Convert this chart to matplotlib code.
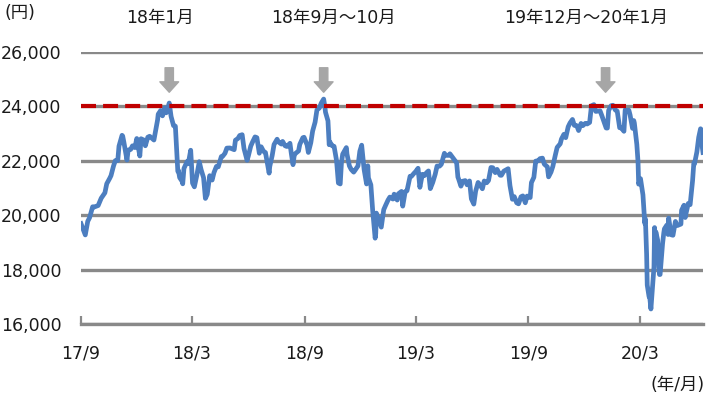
import numpy as np
import pandas as pd
import matplotlib
matplotlib.use("Agg")
import matplotlib.pyplot as plt
from matplotlib.ticker import FuncFormatter

plt.rcParams['font.family'] = ['DejaVu Sans', 'Noto Sans CJK JP']

# Nikkei-like closing prices (yen)
dates = [
    '2017-09-01', '2017-09-08', '2017-09-12', '2017-09-15', '2017-09-20', '2017-09-22', '2017-09-29',
    '2017-10-04', '2017-10-10', '2017-10-13', '2017-10-18', '2017-10-20', '2017-10-24', '2017-10-27',
    '2017-10-31', '2017-11-02', '2017-11-07', '2017-11-08', '2017-11-10', '2017-11-15', '2017-11-17',
    '2017-11-21', '2017-11-24', '2017-11-28', '2017-12-01', '2017-12-06', '2017-12-08', '2017-12-13',
    '2017-12-15', '2017-12-19', '2017-12-22', '2017-12-29',
    '2018-01-04', '2018-01-05', '2018-01-09', '2018-01-12', '2018-01-16', '2018-01-18', '2018-01-19',
    '2018-01-23', '2018-01-26', '2018-01-30', '2018-02-02', '2018-02-06', '2018-02-07', '2018-02-09',
    '2018-02-13', '2018-02-14', '2018-02-16', '2018-02-21', '2018-02-23', '2018-02-27', '2018-03-02',
    '2018-03-05', '2018-03-09', '2018-03-13', '2018-03-16', '2018-03-20', '2018-03-23', '2018-03-26',
    '2018-03-30', '2018-04-03', '2018-04-06', '2018-04-10', '2018-04-13', '2018-04-18', '2018-04-20',
    '2018-04-24', '2018-04-27', '2018-05-02', '2018-05-09', '2018-05-11', '2018-05-15', '2018-05-18',
    '2018-05-22', '2018-05-25', '2018-05-30', '2018-06-01', '2018-06-05', '2018-06-08', '2018-06-12',
    '2018-06-15', '2018-06-19', '2018-06-22', '2018-06-26', '2018-06-29', '2018-07-03', '2018-07-05',
    '2018-07-06', '2018-07-10', '2018-07-13', '2018-07-18', '2018-07-20', '2018-07-25', '2018-07-27',
    '2018-07-31', '2018-08-03', '2018-08-08', '2018-08-10', '2018-08-13', '2018-08-15', '2018-08-17',
    '2018-08-22', '2018-08-24', '2018-08-29', '2018-08-31', '2018-09-05', '2018-09-07', '2018-09-11',
    '2018-09-14', '2018-09-18', '2018-09-21', '2018-09-25', '2018-09-28', '2018-10-02', '2018-10-04',
    '2018-10-05', '2018-10-09', '2018-10-11', '2018-10-12', '2018-10-16', '2018-10-19', '2018-10-23',
    '2018-10-26', '2018-10-29', '2018-10-31', '2018-11-02', '2018-11-08', '2018-11-09', '2018-11-13',
    '2018-11-16', '2018-11-20', '2018-11-22', '2018-11-27', '2018-11-30', '2018-12-03', '2018-12-07',
    '2018-12-11', '2018-12-13', '2018-12-14', '2018-12-18', '2018-12-21', '2018-12-25', '2018-12-26',
    '2018-12-27', '2018-12-28',
    '2019-01-04', '2019-01-08', '2019-01-11', '2019-01-15', '2019-01-18', '2019-01-23', '2019-01-25',
    '2019-01-30', '2019-02-01', '2019-02-06', '2019-02-08', '2019-02-12', '2019-02-15', '2019-02-20',
    '2019-02-22', '2019-02-27', '2019-03-01', '2019-03-05', '2019-03-08', '2019-03-12', '2019-03-15',
    '2019-03-19', '2019-03-22', '2019-03-25', '2019-03-29', '2019-04-02', '2019-04-05', '2019-04-09',
    '2019-04-12', '2019-04-17', '2019-04-19', '2019-04-24', '2019-04-26', '2019-05-07', '2019-05-09',
    '2019-05-10', '2019-05-14', '2019-05-17', '2019-05-21', '2019-05-24', '2019-05-28', '2019-05-31',
    '2019-06-04', '2019-06-07', '2019-06-11', '2019-06-14', '2019-06-18', '2019-06-21', '2019-06-25',
    '2019-06-28', '2019-07-02', '2019-07-05', '2019-07-09', '2019-07-12', '2019-07-17', '2019-07-19',
    '2019-07-23', '2019-07-26', '2019-07-30', '2019-08-02', '2019-08-06', '2019-08-09', '2019-08-13',
    '2019-08-16', '2019-08-20', '2019-08-23', '2019-08-27', '2019-08-30', '2019-09-04', '2019-09-06',
    '2019-09-10', '2019-09-13', '2019-09-17', '2019-09-20', '2019-09-24', '2019-09-27', '2019-10-02',
    '2019-10-04', '2019-10-08', '2019-10-11', '2019-10-15', '2019-10-18', '2019-10-23', '2019-10-25',
    '2019-10-29', '2019-11-01', '2019-11-05', '2019-11-08', '2019-11-12', '2019-11-15', '2019-11-19',
    '2019-11-22', '2019-11-26', '2019-11-29', '2019-12-03', '2019-12-06', '2019-12-10', '2019-12-13',
    '2019-12-17', '2019-12-20', '2019-12-24', '2019-12-27', '2019-12-30',
    '2020-01-06', '2020-01-08', '2020-01-10', '2020-01-14', '2020-01-17', '2020-01-21', '2020-01-24',
    '2020-01-28', '2020-01-31', '2020-02-04', '2020-02-06', '2020-02-07', '2020-02-12', '2020-02-14',
    '2020-02-18', '2020-02-20', '2020-02-21', '2020-02-25', '2020-02-27', '2020-02-28', '2020-03-02',
    '2020-03-06', '2020-03-09', '2020-03-10', '2020-03-12', '2020-03-13', '2020-03-16', '2020-03-17',
    '2020-03-19', '2020-03-24', '2020-03-25', '2020-03-26', '2020-03-27', '2020-03-30', '2020-04-01',
    '2020-04-02', '2020-04-03', '2020-04-07', '2020-04-09', '2020-04-10', '2020-04-14', '2020-04-16',
    '2020-04-17', '2020-04-21', '2020-04-24', '2020-04-28', '2020-05-01', '2020-05-07', '2020-05-08',
    '2020-05-12', '2020-05-14', '2020-05-15', '2020-05-19', '2020-05-22', '2020-05-26', '2020-05-28',
    '2020-05-29', '2020-06-02', '2020-06-04', '2020-06-05', '2020-06-08', '2020-06-10', '2020-06-11',
    '2020-06-12',
]
closes = [
    19691, 19275, 19776, 19909, 20310, 20296, 20356,
    20626, 20823, 21155, 21363, 21457, 21805, 22008,
    22011, 22539, 22937, 22913, 22681, 22028, 22397,
    22417, 22551, 22486, 22819, 22177, 22811, 22758,
    22553, 22868, 22902, 22764,
    23506, 23714, 23849, 23653, 23951, 23763, 23808,
    24124, 23631, 23291, 23274, 21610, 21645, 21382,
    21245, 21154, 21720, 21970, 21892, 22389, 21181,
    21042, 21469, 21968, 21676, 21380, 20617, 20766,
    21454, 21292, 21567, 21794, 21778, 22158, 22162,
    22278, 22467, 22472, 22408, 22758, 22818, 22930,
    22960, 22450, 22018, 22171, 22539, 22694, 22878,
    22851, 22278, 22516, 22342, 22305, 21785, 21546,
    21788, 22196, 22597, 22794, 22698, 22614, 22712,
    22553, 22525, 22644, 22298, 21857, 22204, 22270,
    22362, 22601, 22848, 22865, 22580, 22307, 22664,
    23094, 23420, 23869, 23940, 24120, 24270, 23975,
    23784, 23469, 22590, 22694, 22549, 22532, 22010,
    21184, 21149, 21920, 22243, 22486, 22250, 21810,
    21680, 21583, 21646, 21812, 22351, 22574, 21679,
    21148, 21816, 21374, 21115, 20166, 19155, 19327,
    20077, 20015,
    19561, 20204, 20359, 20555, 20666, 20593, 20774,
    20556, 20788, 20874, 20333, 20864, 20900, 21431,
    21425, 21556, 21602, 21726, 21025, 21503, 21450,
    21566, 21627, 20977, 21205, 21505, 21807, 21802,
    21870, 22277, 22200, 22200, 22258, 21923, 21402,
    21344, 21067, 21250, 21272, 21117, 21260, 20601,
    20408, 20884, 21204, 21116, 20972, 21258, 21193,
    21275, 21754, 21746, 21565, 21685, 21469, 21466,
    21620, 21658, 21709, 21087, 20585, 20684, 20455,
    20418, 20677, 20710, 20456, 20704, 20649, 21199,
    21392, 21988, 22001, 22079, 22098, 21878, 21778,
    21410, 21587, 21798, 22207, 22492, 22625, 22799,
    22974, 22850, 23251, 23391, 23520, 23303, 23292,
    23112, 23373, 23293, 23379, 23354, 23410, 24023,
    24066, 23816, 23830, 23837, 23656,
    23204, 23204, 23850, 24025, 24041, 23864, 23827,
    23215, 23205, 23084, 23873, 23827, 23861, 23687,
    23194, 23479, 23386, 22605, 21948, 21142, 21344,
    20749, 19698, 19867, 18559, 17431, 17002, 17011,
    16552, 18092, 19546, 18664, 19389, 19084, 18065,
    17818, 17820, 18950, 19345, 19498, 19638, 19290,
    19897, 19280, 19262, 19771, 19619, 19674, 20179,
    20366, 19915, 20037, 20433, 20388, 21271, 21916,
    21877, 22325, 22696, 22863, 23178, 23125, 22473,
    22305,
]

xtick_dates = ['2017-09-01', '2018-03-01', '2018-09-01', '2019-03-01', '2019-09-01', '2020-03-01']
xtick_labels = ['17/9', '18/3', '18/9', '19/3', '19/9', '20/3']
yticks = [16000, 18000, 20000, 22000, 24000, 26000]
ref_level = 24000

peak_labels = ['18年1月', '18年9月～10月', '19年12月～20年1月']
peak_arrow_dates = ['2018-01-23', '2018-10-02', '2020-01-05']
peak_label_dates = ['2018-01-08', '2018-10-18', '2019-12-05']

d = pd.to_datetime(dates)

fig = plt.figure(figsize=(7.09, 3.97), dpi=100)
ax = fig.add_axes([81 / 709, 1 - 324 / 397, 622 / 709, (324 - 52) / 397])

grid_c = '#898989'
ax.set_ylim(16000, 26000)
ax.set_xlim(pd.Timestamp('2017-09-01'), pd.Timestamp('2020-06-12'))
ax.set_yticks(yticks)
ax.yaxis.set_major_formatter(FuncFormatter(lambda v, p: f'{int(v):,}'))
ax.set_xticks(pd.to_datetime(xtick_dates))
ax.set_xticklabels(xtick_labels)
ax.grid(axis='y', color=grid_c, lw=2.4, zorder=1)
ax.set_axisbelow(True)

for s in ['top', 'right', 'left']:
    ax.spines[s].set_visible(False)
ax.spines['bottom'].set_color(grid_c)
ax.spines['bottom'].set_linewidth(2.4)
ax.tick_params(axis='y', length=0, labelsize=12.5, pad=14, labelcolor='#1a1a1a')
ax.tick_params(axis='x', direction='in', length=6, width=1.6, color=grid_c,
               labelsize=12.5, pad=15, labelcolor='#1a1a1a')

ax.plot(d, closes, color='#4C7EC0', lw=3.4, solid_joinstyle='round', zorder=3)
ax.axhline(ref_level, color='#C00000', lw=3, dashes=(3.6, 1.7), zorder=4)

for lab, ad, ld in zip(peak_labels, peak_arrow_dates, peak_label_dates):
    ax.annotate('', xy=(pd.Timestamp(ad), 24520), xytext=(pd.Timestamp(ad), 25420),
                arrowprops=dict(arrowstyle='simple,head_length=0.75,head_width=1.35,tail_width=0.6',
                                color='#A6A6A6', shrinkA=0, shrinkB=0, mutation_scale=10),
                annotation_clip=False)
    ax.text(pd.Timestamp(ld), 27250, lab, ha='center', va='center', fontsize=12.5,
            color='#1a1a1a', clip_on=False)

fig.text(5 / 709, 1 - 13 / 397, '(円)', fontsize=12.5, va='center', ha='left', color='#1a1a1a')
fig.text(705 / 709, 1 - 385 / 397, '(年/月)', fontsize=12.5, va='center', ha='right', color='#1a1a1a')

fig.savefig('out.png', dpi=100)
